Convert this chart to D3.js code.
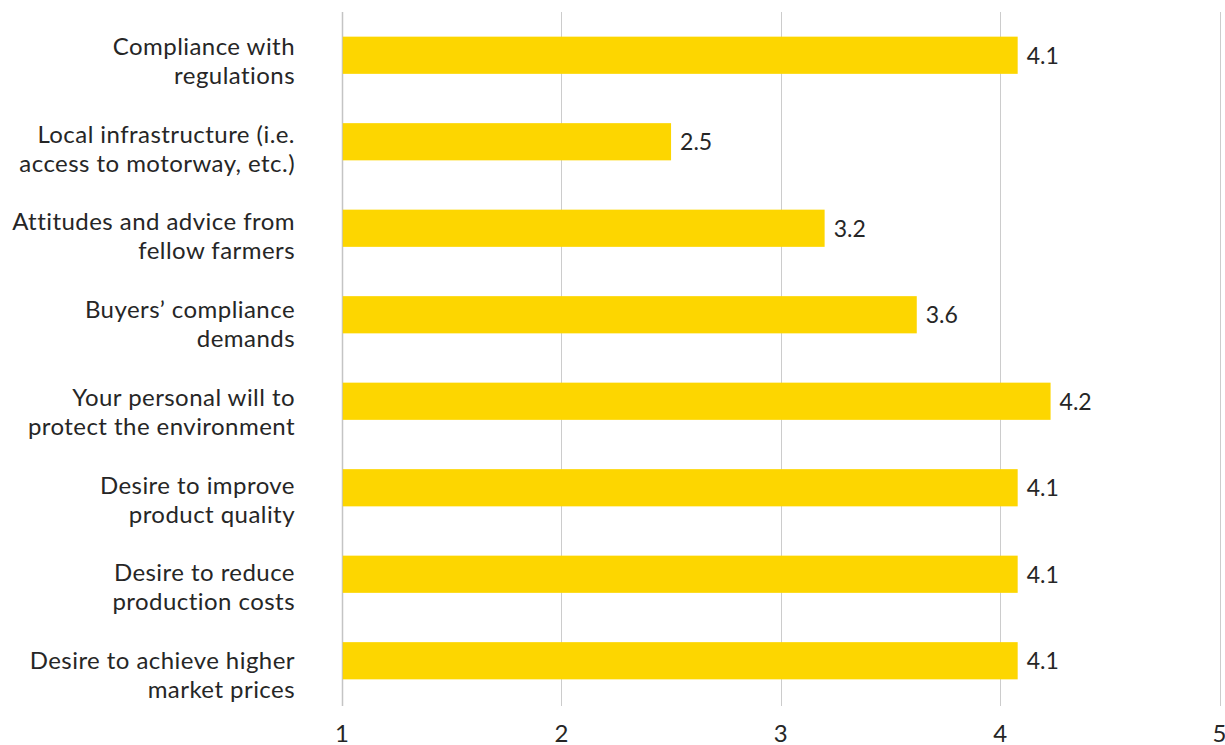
<!DOCTYPE html>
<html>
<head>
<meta charset="utf-8">
<script src="https://cdn.jsdelivr.net/npm/d3@7"></script>
<style>
  html, body { margin: 0; padding: 0; background: #ffffff; overflow: hidden; }
  svg { display: block; }
  svg text { font-family: "Lato", "Open Sans", sans-serif; fill: #262626; }
</style>
</head>
<body>
<svg id="chart" width="1225" height="745"></svg>
<script>
// Drivers of environmental practice adoption, mean score (1–5)
const categories = [
  "Compliance with\nregulations",
  "Local infrastructure (i.e.\naccess to motorway, etc.)",
  "Attitudes and advice from\nfellow farmers",
  "Buyers’ compliance\ndemands",
  "Your personal will to\nprotect the environment",
  "Desire to improve\nproduct quality",
  "Desire to reduce\nproduction costs",
  "Desire to achieve higher\nmarket prices"
];
const meanScores = [4.08, 2.5, 3.2, 3.62, 4.23, 4.08, 4.08, 4.08];
const tickValues = [1, 2, 3, 4, 5];

const svg = d3.select("#chart");
const width = 1225, height = 745;
const margin = { top: 12, right: 5, bottom: 38, left: 342 };

const x = d3.scaleLinear()
  .domain([1, 5])
  .range([margin.left, width - margin.right - 0.5]);

// bar rows
const y = d3.scaleBand()
  .domain(categories)
  .range([margin.top, height - margin.bottom - 3])
  .paddingInner(0.57)
  .paddingOuter(0.285);

// baselines of the first line of each category label
const yLabel = d3.scalePoint()
  .domain(categories)
  .range([55, 669]);

const gridBottom = 706;

// vertical gridlines
svg.append("g")
  .selectAll("line")
  .data(tickValues)
  .join("line")
  .attr("x1", d => Math.round(x(d)) + 0.5)
  .attr("x2", d => Math.round(x(d)) + 0.5)
  .attr("y1", margin.top)
  .attr("y2", gridBottom)
  .attr("stroke", d => d === 1 ? "#c4c4c4" : "#cccccc")
  .attr("stroke-width", d => d === 1 ? 1.5 : 1);

// x tick labels
svg.append("g")
  .selectAll("text")
  .data(tickValues)
  .join("text")
  .attr("x", d => x(d))
  .attr("y", 742)
  .attr("text-anchor", "middle")
  .style("font-size", "24px")
  .text(d3.format("d"));

// bars
svg.append("g")
  .selectAll("rect")
  .data(meanScores)
  .join("rect")
  .attr("x", x(1) + 0.75)
  .attr("y", (d, i) => y(categories[i]))
  .attr("width", d => x(d) - x(1) - 0.75)
  .attr("height", y.bandwidth())
  .attr("fill", "#fdd600");

// value labels
svg.append("g")
  .selectAll("text")
  .data(meanScores)
  .join("text")
  .attr("x", d => x(d) + 9)
  .attr("y", (d, i) => y(categories[i]) + y.bandwidth() / 2)
  .attr("dy", "0.36em")
  .style("font-size", "23px")
  .text(d3.format(".1f"));

// category labels (two lines each, right-aligned)
const lineHeight = 29;
svg.append("g")
  .selectAll("text")
  .data(categories)
  .join("text")
  .attr("text-anchor", "end")
  .attr("x", 295)
  .attr("y", d => yLabel(d))
  .style("font-size", "24px")
  .style("letter-spacing", "0.45px")
  .each(function (d) {
    const t = d3.select(this);
    d.split("\n").forEach((ln, k) => {
      t.append("tspan")
        .attr("x", 295)
        .attr("dy", k === 0 ? 0 : lineHeight)
        .text(ln);
    });
  });
</script>
</body>
</html>
